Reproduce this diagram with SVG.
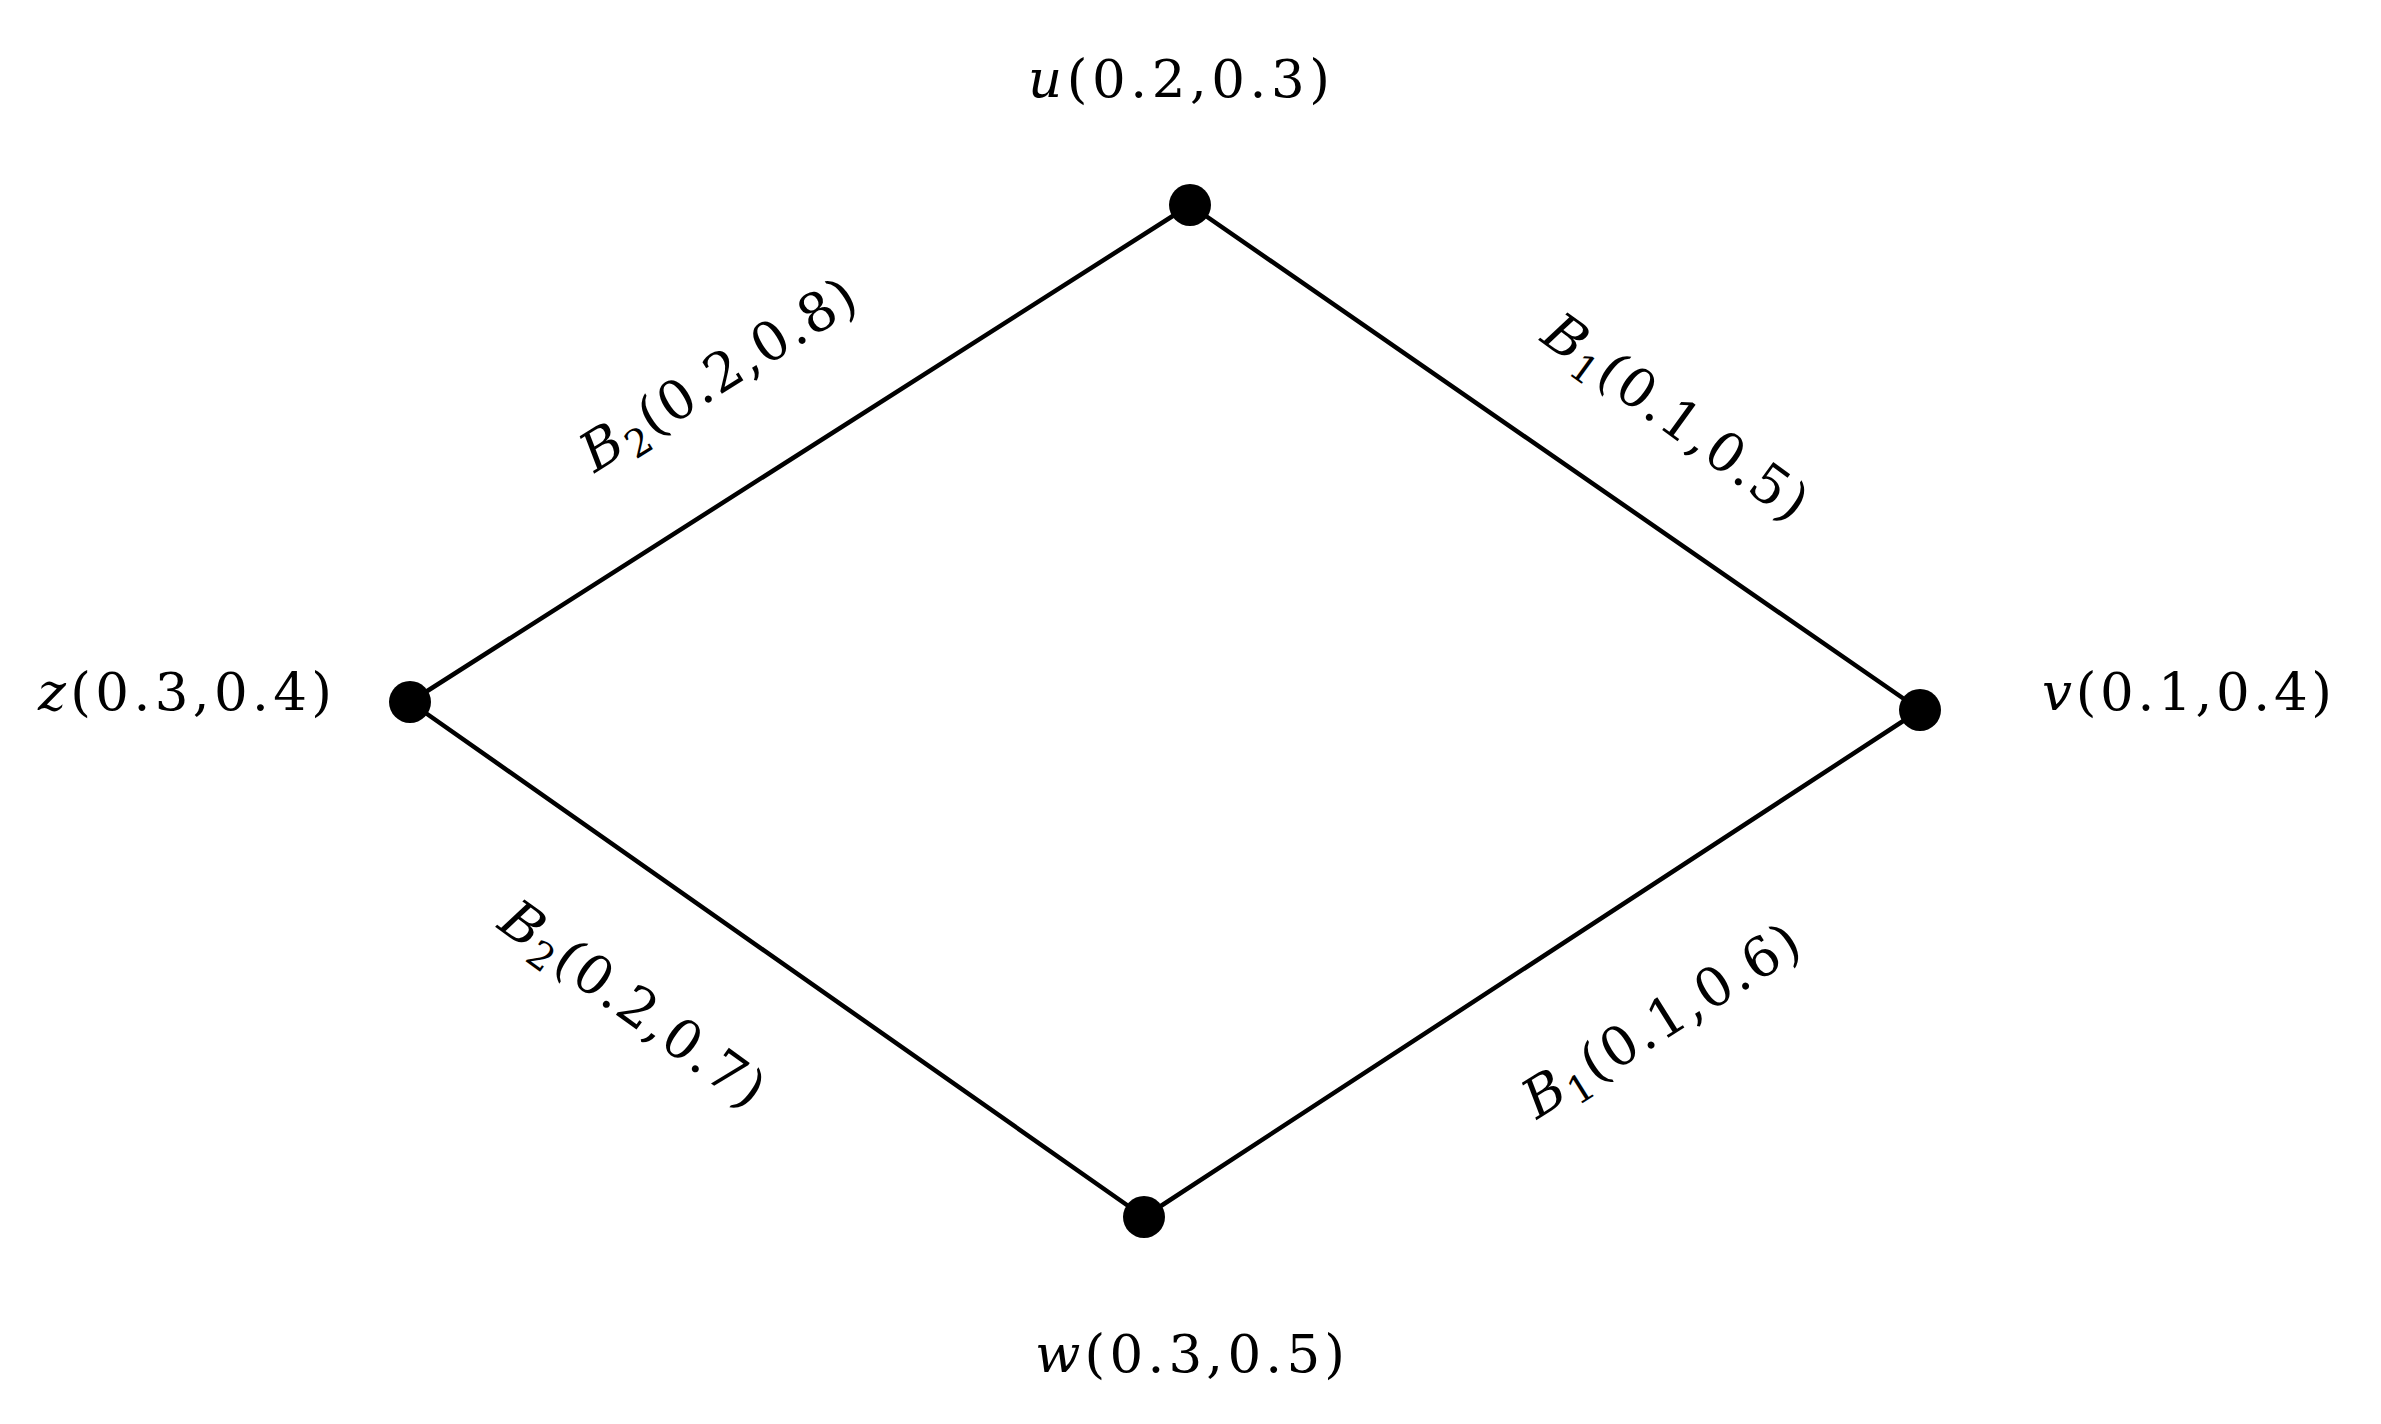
<svg xmlns="http://www.w3.org/2000/svg" width="2381" height="1424" viewBox="0 0 2381 1424">
<style>
.edge{stroke:#000;stroke-width:4.5;fill:none;stroke-linecap:round}
.dot{fill:#000}
.lbl{font-family:"DejaVu Serif","Liberation Serif",serif;font-size:53px;fill:#000}
.elbl{font-family:"DejaVu Serif","Liberation Serif",serif;font-size:54px;fill:#000}
.it{font-style:italic}
.sub{font-size:38px}
</style>
<rect width="2381" height="1424" fill="#fff"/>
<g id="connectors">
<line class="edge" x1="410" y1="702" x2="1190" y2="205"/>
<line class="edge" x1="1190" y1="205" x2="1920" y2="710"/>
<line class="edge" x1="410" y1="702" x2="1144" y2="1217"/>
<line class="edge" x1="1144" y1="1217" x2="1920" y2="710"/>
<text class="elbl" text-anchor="middle" textLength="314" lengthAdjust="spacing" transform="translate(728,390) rotate(-32)"><tspan class="it">B</tspan><tspan class="sub" dy="10">2</tspan><tspan dy="-10">(0.2,0.8)</tspan></text>
<text class="elbl" text-anchor="middle" textLength="312" lengthAdjust="spacing" transform="translate(1665,432) rotate(36)"><tspan class="it">B</tspan><tspan class="sub" dy="10">1</tspan><tspan dy="-10">(0.1,0.5)</tspan></text>
<text class="elbl" text-anchor="middle" textLength="312" lengthAdjust="spacing" transform="translate(622,1019) rotate(36)"><tspan class="it">B</tspan><tspan class="sub" dy="10">2</tspan><tspan dy="-10">(0.2,0.7)</tspan></text>
<text class="elbl" text-anchor="middle" textLength="316" lengthAdjust="spacing" transform="translate(1671,1036) rotate(-32)"><tspan class="it">B</tspan><tspan class="sub" dy="10">1</tspan><tspan dy="-10">(0.1,0.6)</tspan></text>
</g>
<g id="node-u">
<circle class="dot" cx="1190" cy="205" r="21"/>
<text class="lbl" x="1028" y="97" textLength="302" lengthAdjust="spacing"><tspan class="it">u</tspan>(0.2,0.3)</text>
</g>
<g id="node-z">
<circle class="dot" cx="410" cy="702" r="21"/>
<text class="lbl" x="38" y="710" textLength="294" lengthAdjust="spacing"><tspan class="it">z</tspan>(0.3,0.4)</text>
</g>
<g id="node-v">
<circle class="dot" cx="1920" cy="710" r="21"/>
<text class="lbl" x="2042" y="710" textLength="290" lengthAdjust="spacing"><tspan class="it">v</tspan>(0.1,0.4)</text>
</g>
<g id="node-w">
<circle class="dot" cx="1144" cy="1217" r="21"/>
<text class="lbl" x="1035" y="1372" textLength="310" lengthAdjust="spacing"><tspan class="it">w</tspan>(0.3,0.5)</text>
</g>
</svg>
